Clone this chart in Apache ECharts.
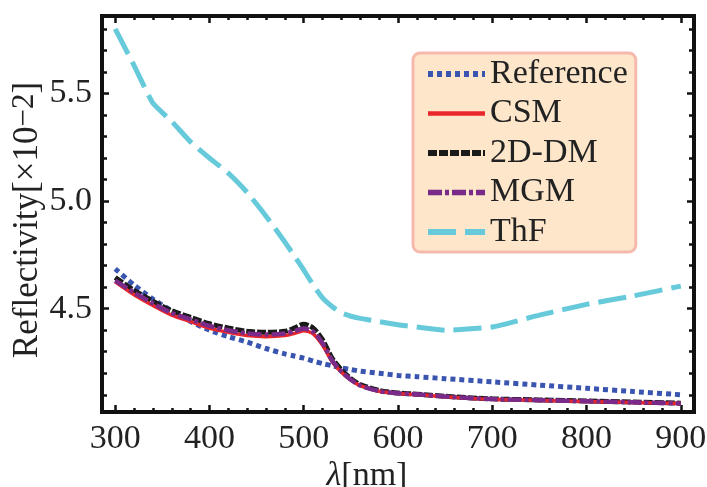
<!DOCTYPE html>
<html>
<head>
<meta charset="utf-8">
<script src="https://cdn.jsdelivr.net/npm/echarts@6/dist/echarts.min.js"></script>
<style>
html,body{margin:0;padding:0;background:#fff;}
#c{width:707px;height:487px;}
</style>
</head>
<body>
<div id="c"></div>
<script>
// Data (wavelength in nm, reflectivity in units of 1e-2)
const wavelengths = [300,320,340,360,380,400,420,440,460,480,490,500,510,520,530,540,550,560,580,600,620,650,700,750,800,850,900];
const reference = [4.685,4.61,4.545,4.49,4.44,4.40,4.37,4.345,4.315,4.29,4.28,4.27,4.257,4.245,4.235,4.225,4.217,4.21,4.20,4.19,4.184,4.175,4.16,4.145,4.13,4.115,4.10];
const csm      = [4.625,4.565,4.515,4.47,4.44,4.41,4.39,4.375,4.37,4.375,4.385,4.398,4.383,4.33,4.255,4.205,4.168,4.142,4.116,4.106,4.101,4.091,4.079,4.074,4.069,4.064,4.059];
const dm2d     = [4.645,4.585,4.535,4.49,4.46,4.43,4.41,4.395,4.39,4.395,4.41,4.428,4.41,4.355,4.27,4.215,4.175,4.147,4.12,4.108,4.103,4.093,4.081,4.076,4.071,4.066,4.061];
const mgm      = [4.63,4.575,4.525,4.48,4.45,4.42,4.40,4.385,4.38,4.385,4.395,4.408,4.393,4.34,4.26,4.208,4.17,4.143,4.117,4.107,4.102,4.092,4.08,4.075,4.07,4.065,4.06];
const thf      = [5.80,5.63,5.455,5.37,5.275,5.20,5.13,5.04,4.93,4.81,4.745,4.68,4.61,4.55,4.51,4.48,4.465,4.455,4.44,4.425,4.415,4.40,4.415,4.47,4.52,4.56,4.605];
const seriesNames = ['Reference','CSM','2D-DM','MGM','ThF'];
const xMajorTicks = [300,400,500,600,700,800,900];
const yLabelTicks = [4.5,5.0,5.5];

const xMinorTicks = [];
for (let v = 300; v <= 900; v += 20) xMinorTicks.push(v);
const yMinorTicks = [];
for (let i = 41; i <= 58; i++) yMinorTicks.push(i / 10);

const pairs = arr => wavelengths.map((w, i) => [w, arr[i]]);

const FONT = 'Liberation Serif';
const FS = 34;
const X_MIN = 286, X_MAX = 914, Y_MIN = 4.02, Y_MAX = 5.86;

const styles = {
  'Reference': { color: '#3A55B0', width: 5, type: [5, 4] },
  'CSM':       { color: '#E8262C', width: 3.5, type: 'solid' },
  '2D-DM':     { color: '#1a1a1a', width: 5, type: [9, 2] },
  'MGM':       { color: '#7A2A88', width: 4.5, type: [14, 3, 4, 3] },
  'ThF':       { color: '#66CADB', width: 5, type: [28, 9] }
};

function xAxisDef(pos, ticks, len, labels) {
  return {
    type: 'value', position: pos, min: X_MIN, max: X_MAX,
    axisLine: { show: false },
    splitLine: { show: false },
    axisTick: { show: true, inside: true, length: len, customValues: ticks, lineStyle: { color: '#111', width: 2.5 } },
    axisLabel: labels ? { show: true, customValues: xMajorTicks, fontFamily: FONT, fontSize: FS, color: '#222', margin: 10 } : { show: false }
  };
}
function yAxisDef(pos, ticks, len, labels) {
  return {
    type: 'value', position: pos, min: Y_MIN, max: Y_MAX,
    axisLine: { show: false },
    splitLine: { show: false },
    axisTick: { show: true, inside: true, length: len, customValues: ticks, lineStyle: { color: '#111', width: 2.5 } },
    axisLabel: labels ? { show: true, customValues: yLabelTicks, formatter: v => Number(v).toFixed(1), fontFamily: FONT, fontSize: FS, color: '#222', margin: 10 } : { show: false }
  };
}

const xAxes = [
  Object.assign(xAxisDef('bottom', xMajorTicks, 7, true), {
    name: '{it|λ}[nm]', nameLocation: 'middle', nameGap: 47, nameMoveOverlap: false,
    nameTextStyle: { fontFamily: FONT, fontSize: FS, color: '#222', padding: [0, 62, 0, 0],
      rich: { it: { fontStyle: 'italic', fontFamily: FONT, fontSize: FS, color: '#222' } } }
  }),
  xAxisDef('bottom', xMinorTicks, 4, false),
  xAxisDef('top', xMajorTicks, 7, false),
  xAxisDef('top', xMinorTicks, 4, false)
];
const yAxes = [
  Object.assign(yAxisDef('left', yLabelTicks, 7, true), {
    name: 'Reflectivity[×10{sup|−2}]', nameLocation: 'middle', nameGap: 55, nameRotate: 90, nameMoveOverlap: false,
    nameTextStyle: { fontFamily: FONT, fontSize: 35, color: '#222', lineHeight: 38, padding: [0, 12, 0, 0],
      rich: { sup: { fontFamily: FONT, fontSize: 31, color: '#222', verticalAlign: 'top', lineHeight: 38 } } }
  }),
  yAxisDef('left', yMinorTicks, 5, false),
  yAxisDef('right', yLabelTicks, 7, false),
  yAxisDef('right', yMinorTicks, 5, false)
];

const chart = echarts.init(document.getElementById('c'), null, { renderer: 'canvas' });
const lineBase = { type: 'line', xAxisIndex: 0, yAxisIndex: 0, showSymbol: false, symbol: 'none', smooth: 0.25, animation: false };

function series(name, data, z, extra) {
  const s = styles[name];
  return Object.assign({}, lineBase, {
    name, data: pairs(data), z, color: s.color,
    lineStyle: { color: s.color, width: s.width, type: s.type, cap: 'butt' }
  }, extra || {});
}

chart.setOption({
  animation: false,
  backgroundColor: '#fff',
  grid: { left: 102, right: 13, top: 16, bottom: 75, containLabel: false, outerBoundsMode: 'none',
    show: true, borderColor: '#111', borderWidth: 4, backgroundColor: 'transparent' },
  xAxis: xAxes,
  yAxis: yAxes,
  legend: {
    orient: 'vertical', left: 413, top: 53,
    data: seriesNames.map(n => ({
      name: n,
      itemStyle: { opacity: 0 },
      lineStyle: { color: styles[n].color, width: styles[n].width + 1, type: styles[n].type, cap: 'butt' }
    })),
    itemWidth: 57, itemHeight: 30, itemGap: 5.5,
    padding: [4, 8, 3, 12],
    backgroundColor: '#FDE6C9', borderColor: '#F6B9AE', borderWidth: 3, borderRadius: 7,
    textStyle: { fontFamily: FONT, fontSize: FS, color: '#222', padding: [0, 0, 0, 0] }
  },
  series: [
    series('Reference', reference, 2),
    series('ThF', thf, 2, { smooth: 0.15 }),
    series('2D-DM', dm2d, 3),
    series('CSM', csm, 4),
    series('MGM', mgm, 5)
  ]
});
</script>
</body>
</html>
